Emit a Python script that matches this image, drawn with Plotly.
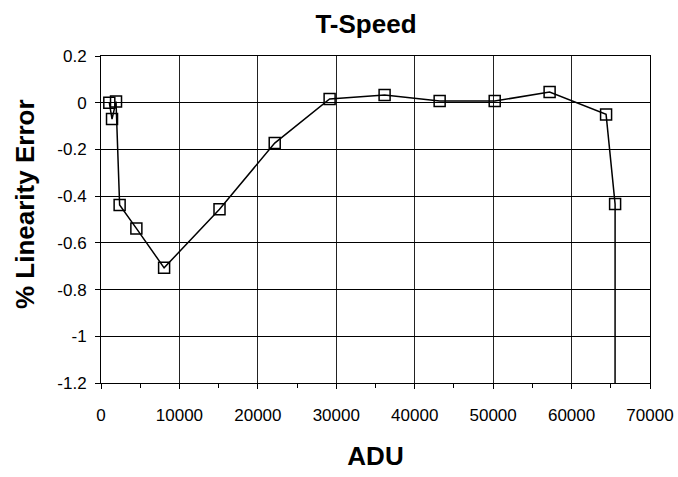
import plotly.graph_objects as go

adu = [1060, 1405, 1915, 2375, 4510, 8045, 15110, 22150, 29150, 36160, 43180, 50200, 57200, 64400, 65550, 65535]
lin_err = [0.0, -0.07, 0.005, -0.438, -0.538, -0.707, -0.456, -0.173, 0.016, 0.033, 0.007, 0.007, 0.046, -0.05, -0.434, -3.0]

x_ticks = [0, 10000, 20000, 30000, 40000, 50000, 60000, 70000]
y_ticks = [0.2, 0, -0.2, -0.4, -0.6, -0.8, -1, -1.2]
y_tick_text = ["0.2", "0", "-0.2", "-0.4", "-0.6", "-0.8", "-1", "-1.2"]

fig = go.Figure()
fig.add_trace(go.Scatter(
    x=adu, y=lin_err, mode="lines+markers",
    line=dict(color="black", width=1.5),
    marker=dict(symbol="square-open", size=11, color="black", line=dict(width=1.5, color="black"),
                opacity=[1] * (len(adu) - 1) + [0]),
    cliponaxis=True,
    showlegend=False,
))

font = "Liberation Sans, Arial, sans-serif"
fig.update_layout(
    width=678, height=477,
    margin=dict(l=101, r=28, t=56, b=94, autoexpand=False),
    paper_bgcolor="white", plot_bgcolor="white",
    font=dict(family=font, color="black", size=17),
    title=dict(text="<b>T-Speed</b>", x=366 / 678, xanchor="center", y=0.95, yanchor="middle",
               font=dict(size=26, family=font, color="black")),
    annotations=[dict(
        text="<b>% Linearity Error</b>", textangle=-90,
        xref="paper", yref="paper", x=(25 - 101) / 549, y=(383 - 204) / 327,
        xanchor="center", yanchor="middle", showarrow=False,
        font=dict(size=26, family=font, color="black"),
    )],
)
fig.update_xaxes(
    range=[0, 70000], tickvals=x_ticks, ticktext=[str(v) for v in x_ticks],
    showgrid=True, gridcolor="#222222", gridwidth=1,
    showline=True, linecolor="black", linewidth=1, mirror=True,
    ticks="outside", ticklen=5, tickcolor="black", ticklabelstandoff=12,
    minor=dict(dtick=5000, ticks="outside", ticklen=4, tickcolor="black", showgrid=False),
    zeroline=False, automargin=False,
    title=dict(text="<b>ADU</b>", font=dict(size=26, family=font), standoff=22),
    tickfont=dict(size=17),
)
fig.update_yaxes(
    range=[-1.2, 0.2], tickvals=y_ticks, ticktext=y_tick_text,
    showgrid=True, gridcolor="black", gridwidth=1,
    showline=True, linecolor="black", linewidth=1, mirror=True,
    ticks="outside", ticklen=5, tickcolor="black", ticklabelstandoff=5,
    zeroline=False, automargin=False,
    tickfont=dict(size=17),
)

fig.write_html("out.html")
